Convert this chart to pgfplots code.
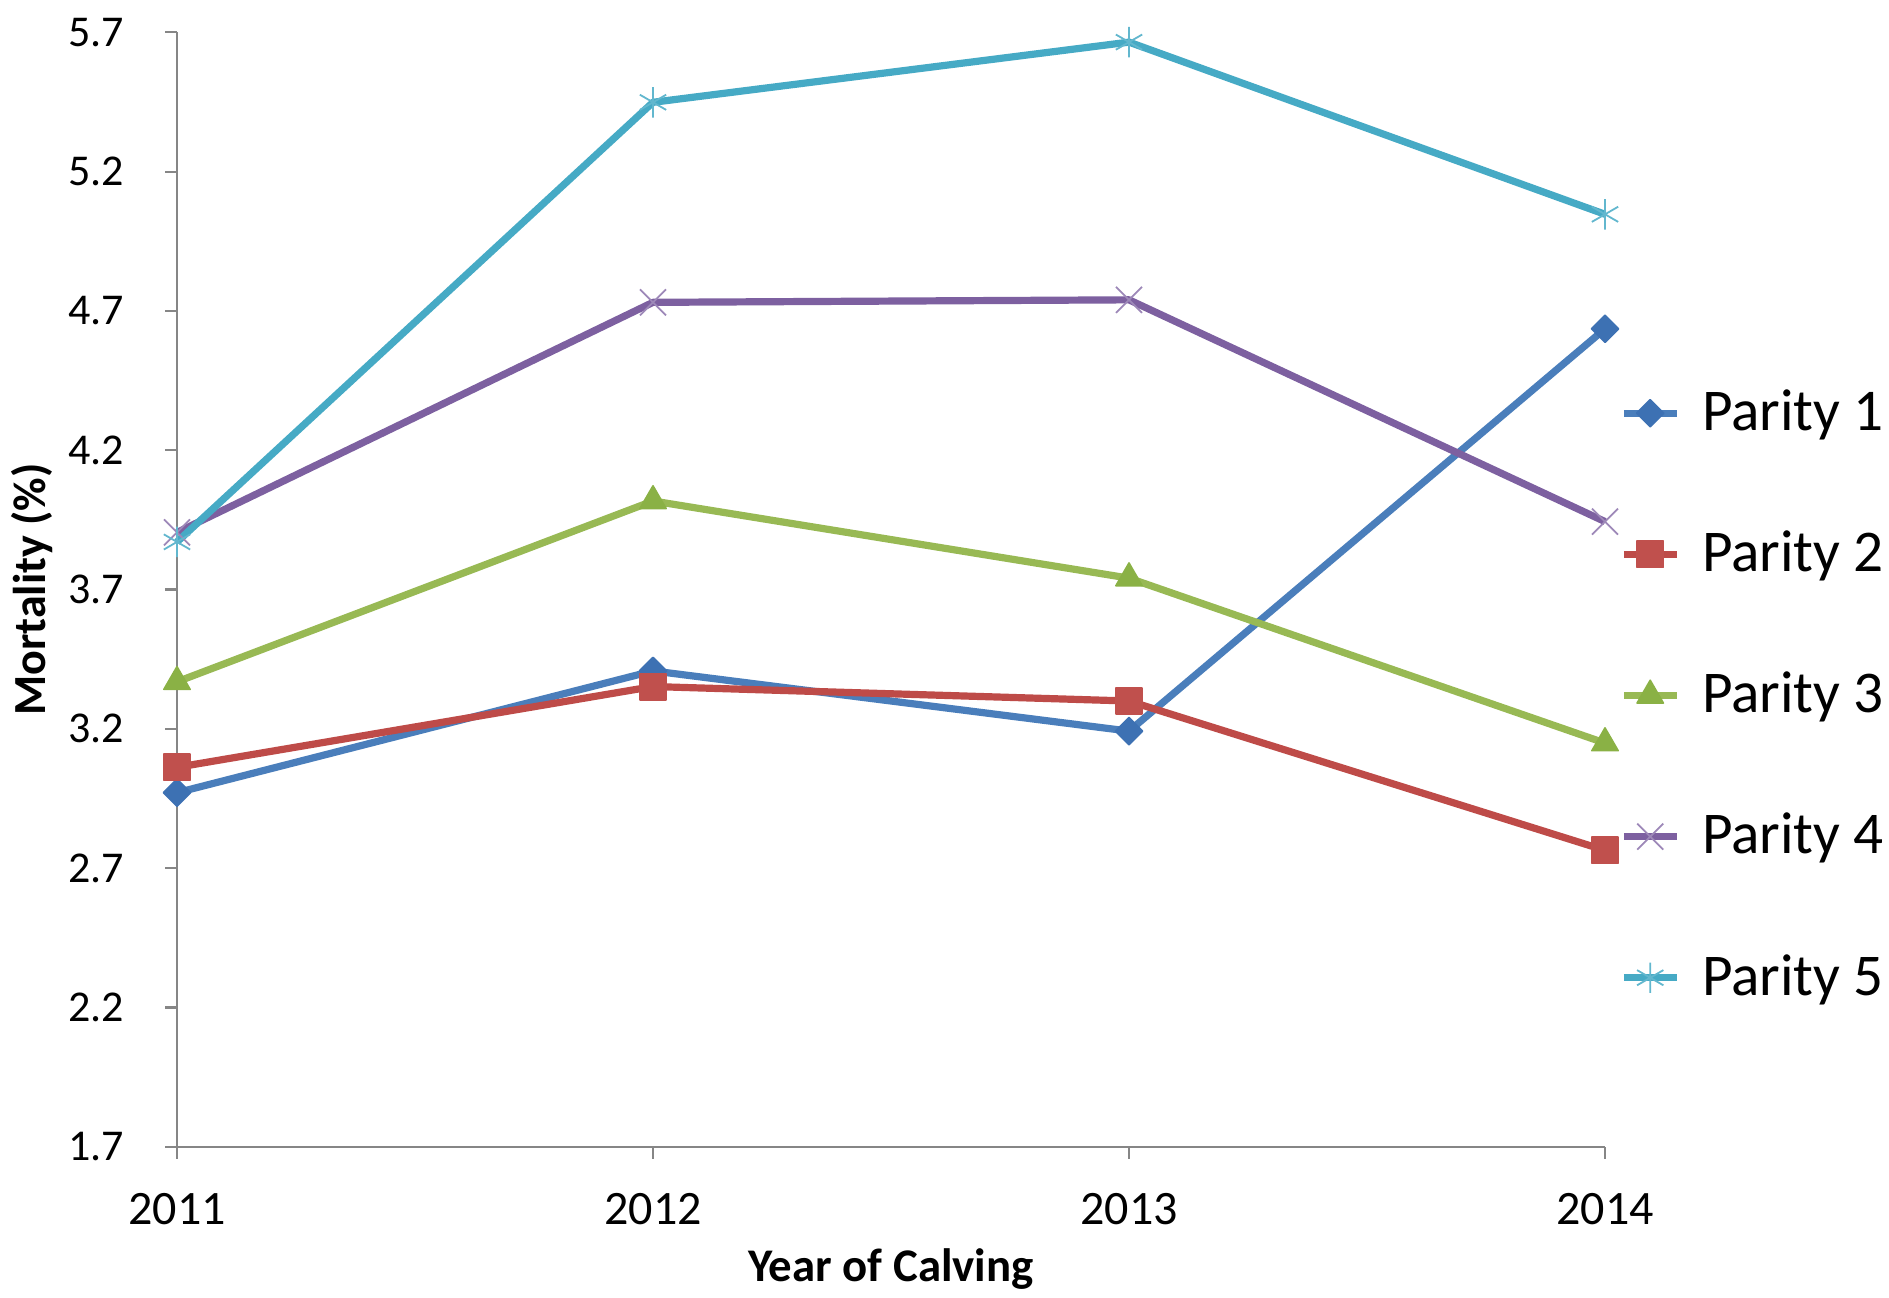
\documentclass[border=0pt]{standalone}
\usepackage{pgfplots}
\pgfplotsset{compat=1.18}
\usepackage{fontspec}
\setmainfont{Carlito}

\definecolor{axisgray}{HTML}{868686}
\definecolor{pone}{HTML}{4A7EBB}
\definecolor{ponemark}{HTML}{3D71B3}
\definecolor{ptwo}{HTML}{BE4B48}
\definecolor{ptwomark}{HTML}{C0504D}
\definecolor{pthree}{HTML}{98B954}
\definecolor{pthreemark}{HTML}{8AB145}
\definecolor{pfour}{HTML}{7D60A0}
\definecolor{pfive}{HTML}{46AAC5}

\begin{document}
\begin{tikzpicture}
\begin{axis}[
  scale only axis,
  width=357pt, height=278.6pt,
  xmin=2011, xmax=2014,
  ymin=1.7, ymax=5.7,
  xtick={2011,2012,2013,2014},
  ytick={1.7,2.2,2.7,3.2,3.7,4.2,4.7,5.2,5.7},
  /pgf/number format/.cd, fixed, fixed zerofill, precision=1, 1000 sep={}, assume math mode=true,
  /pgfplots/.cd,
  xticklabel={\pgfmathprintnumber[precision=0,fixed zerofill=false]{\tick}},
  axis x line*=bottom, axis y line*=left,
  axis line style={draw=axisgray, line width=0.55pt, -},
  tick align=outside,
  major tick length=3pt,
  tick style={draw=axisgray, line width=0.55pt},
  yticklabel style={inner sep=0pt, xshift=-10pt, font=\fontsize{11}{13}\selectfont},
  xticklabel style={inner sep=0pt, yshift=-8.5pt, font=\fontsize{12}{14}\selectfont},
  xlabel={\textbf{Year of Calving}},
  ylabel={\textbf{Mortality (\%)}},
  every axis x label/.style={at={(rel axis cs:0.5,0)}, anchor=north, inner sep=0pt, yshift=-25.3pt, font=\fontsize{11.7}{13}\selectfont},
  every axis y label/.style={at={(rel axis cs:0,0.5)}, rotate=90, anchor=south, inner sep=0pt, yshift=30.75pt, font=\fontsize{11.5}{13}\selectfont},
  clip=false,
  legend cell align=left,
  legend style={
    draw=none, fill=none,
    at={(rel axis cs:1,0.405)}, anchor=west, xshift=3.6pt,
    inner xsep=0pt, inner ysep=0pt,
    font=\fontsize{14.8}{17}\selectfont,
    nodes={inner sep=0pt},
    row sep=23.6pt,
    /tikz/every odd column/.append style={column sep=5.4pt},
  },
  legend image code/.code={
    \draw[mark repeat=2, mark phase=2] plot coordinates {(0pt,0pt) (6.6pt,0pt) (13.25pt,0pt)};
  },
  every axis plot/.append style={line width=1.8pt, line join=round},
]
\coordinate (SW) at (rel axis cs:0,0);
\coordinate (NE) at (rel axis cs:1,1);

\addplot[color=pone, mark=square*, mark size=2.4pt,
  mark options={fill=ponemark, draw=ponemark, line width=0.4pt, rotate=45}]
  coordinates {(2011,2.971) (2012,3.408) (2013,3.192) (2014,4.636)};
\addlegendentry{Parity 1}

\addplot[color=ptwo, mark=square*, mark size=3.3pt,
  mark options={fill=ptwomark, draw=ptwomark, line width=0.4pt}]
  coordinates {(2011,3.062) (2012,3.352) (2013,3.300) (2014,2.764)};
\addlegendentry{Parity 2}

\addplot[color=pthree, mark=triangle*, mark size=3.8pt,
  mark options={fill=pthreemark, draw=pthreemark, line width=0.4pt}]
  coordinates {(2011,3.369) (2012,4.018) (2013,3.741) (2014,3.149)};
\addlegendentry{Parity 3}

\addplot[color=pfour, mark=x, mark size=4.6pt,
  mark options={draw=pfour!75, line width=0.45pt}]
  coordinates {(2011,3.905) (2012,4.731) (2013,4.740) (2014,3.944)};
\addlegendentry{Parity 4}

\addplot[color=pfive, mark=asterisk, mark size=3.8pt,
  mark options={draw=pfive!85, line width=0.45pt}]
  coordinates {(2011,3.871) (2012,5.449) (2013,5.665) (2014,5.047)};
\addlegendentry{Parity 5}
\end{axis}
\pgfresetboundingbox
\path[use as bounding box] ([xshift=-44.25pt,yshift=-37.75pt]SW) rectangle ([xshift=71pt,yshift=8.1pt]NE);
\end{tikzpicture}
\end{document}
